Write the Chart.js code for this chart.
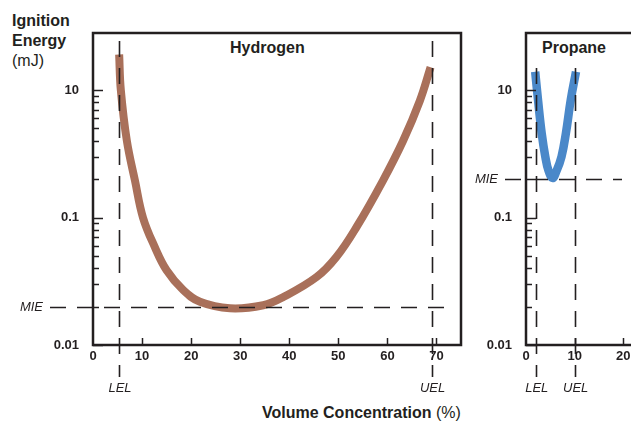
<!DOCTYPE html>
<html>
<head>
<meta charset="utf-8">
<script src="https://cdn.jsdelivr.net/npm/chart.js@4/dist/chart.umd.min.js"></script>
<style>
  html, body { margin: 0; padding: 0; background: #fff; overflow: hidden; width: 631px; height: 422px; }
  body { position: relative; font-family: "Liberation Sans", Arial, sans-serif; color: #231f20; }
  canvas { position: absolute; top: 0; }
  .lbl { position: absolute; font-size: 16px; line-height: 20px; white-space: nowrap; }
  .b { font-weight: bold; }
</style>
</head>
<body>
<div class="lbl" style="left:12px; top:11px;"><span class="b">Ignition</span><br><span class="b">Energy</span><br>(mJ)</div>
<div class="lbl b" style="left:230px; top:38px;">Hydrogen</div>
<div class="lbl b" style="left:542px; top:38px;">Propane</div>
<div class="lbl" style="left:262px; top:403px;"><span class="b">Volume Concentration</span> (%)</div>

<canvas id="h2Chart" width="470" height="422" style="left:0px;"></canvas>
<canvas id="c3Chart" width="175" height="422" style="left:465px;"></canvas>

<script>
// Hydrogen: concentration (%) vs minimum ignition energy (mJ)
const h2Conc   = [5.33, 5.67, 6.9, 8.55, 10.2, 12.6, 15.0, 18.4, 21.8, 27.9, 34.7, 38.8, 45.6, 49.6, 53.7, 59.1, 63.2, 66.6, 68.8];
const h2Energy = [1.9, 1.0, 0.40, 0.195, 0.0995, 0.0586, 0.0386, 0.0269, 0.0218, 0.0194, 0.0205, 0.0238, 0.0342, 0.049, 0.084, 0.195, 0.40, 0.82, 1.51];
const h2Limits = [5.3, 69];   // LEL, UEL
const h2Mie = 0.02;
const h2XTicks = [0, 10, 20, 30, 40, 50, 60, 70];

// Propane
const c3Conc   = [1.89, 2.47, 3.23, 3.97, 4.63, 5.45, 6.3, 7.3, 8.2, 9.2, 10.28];
const c3Energy = [1.39, 0.836, 0.457, 0.300, 0.233, 0.204, 0.233, 0.300, 0.457, 0.836, 1.39];
const c3Limits = [2.0, 10];
const c3Mie = 0.2;
const c3XTicks = [0, 10, 20];

const limitNames = ['LEL', 'UEL'];

// y axis: major ticks with the labels as printed, minor ticks 2..9 in each decade
const yMajor = [0.01, 0.1, 1];
const yTickLabels = ['0.01', '0.1', '10'];

const INK = '#231f20';
const FONT = '"Liberation Sans", Arial, sans-serif';

const yTickValues = [];
[0.01, 0.1].forEach(d => { for (let k = 1; k <= 9; k++) yTickValues.push(+(d * k).toFixed(3)); });
yTickValues.push(1);

const marksPlugin = {
  id: 'marks',
  afterDatasetsDraw(chart, args, o) {
    const { ctx, chartArea: a } = chart;
    const x = chart.scales.x, y = chart.scales.y;
    ctx.save();
    ctx.strokeStyle = INK;

    // dashed LEL / UEL / MIE lines
    ctx.lineWidth = 1.6;
    ctx.setLineDash([16, 11]);
    o.limits.forEach(v => {
      const px = Math.round(x.getPixelForValue(v)) + 0.5;
      ctx.beginPath(); ctx.moveTo(px, o.limitTop); ctx.lineTo(px, o.limitBottom); ctx.stroke();
    });
    const my = Math.round(y.getPixelForValue(o.mie)) + 0.5;
    ctx.beginPath(); ctx.moveTo(o.mieFrom, my); ctx.lineTo(o.mieTo, my); ctx.stroke();
    ctx.setLineDash([]);

    // frame
    ctx.lineWidth = 2.5;
    ctx.strokeRect(a.left, a.top, a.right - a.left, a.bottom - a.top);

    // inner tick marks
    ctx.lineWidth = 1.5;
    y.ticks.forEach(t => {
      const py = Math.round(y.getPixelForValue(t.value)) + 0.5;
      const len = yMajor.includes(t.value) ? 10 : 6;
      ctx.beginPath(); ctx.moveTo(a.left, py); ctx.lineTo(a.left + len, py); ctx.stroke();
    });
    x.ticks.forEach(t => {
      if (t.value === 0) return;
      const px = Math.round(x.getPixelForValue(t.value)) + 0.5;
      ctx.beginPath(); ctx.moveTo(px, a.bottom); ctx.lineTo(px, a.bottom - 7); ctx.stroke();
    });

    // italic labels
    ctx.fillStyle = INK;
    ctx.font = 'italic 13px ' + FONT;
    ctx.textBaseline = 'middle';
    ctx.textAlign = 'center';
    o.limits.forEach((v, i) => ctx.fillText(limitNames[i], x.getPixelForValue(v) + 1, 388));
    ctx.textAlign = 'right';
    ctx.fillText('MIE', o.mieFrom - 7, my);
    ctx.restore();
  }
};

function makeChart(id, conc, energy, color, width, xMax, xTicks, yAxisWidth, padRight, marks) {
  return new Chart(document.getElementById(id), {
    type: 'line',
    data: {
      datasets: [{
        data: conc.map((c, i) => ({ x: c, y: energy[i] })),
        borderColor: color,
        borderWidth: width,
        pointRadius: 0,
        tension: 0.4,
        fill: false
      }]
    },
    options: {
      responsive: false,
      animation: false,
      devicePixelRatio: 1,
      layout: { padding: { left: 0, right: padRight, top: 33, bottom: 47 } },
      plugins: { legend: { display: false }, tooltip: { enabled: false }, marks },
      scales: {
        x: {
          type: 'linear', min: 0, max: xMax,
          border: { display: false },
          grid: { display: false, drawTicks: false },
          afterBuildTicks: s => { s.ticks = xTicks.map(v => ({ value: v })); },
          ticks: { padding: 4, color: INK, font: { family: FONT, size: 13, weight: 'bold' }, maxRotation: 0, autoSkip: false },
          afterFit: s => { s.height = 30; }
        },
        y: {
          type: 'logarithmic', min: 0.01, max: 2.8,
          border: { display: false },
          grid: { display: false, drawTicks: false },
          afterBuildTicks: s => { s.ticks = yTickValues.map(v => ({ value: v })); },
          ticks: {
            padding: 14, color: INK, autoSkip: false,
            font: { family: FONT, size: 13, weight: 'bold' },
            callback: v => { const i = yMajor.indexOf(v); return i >= 0 ? yTickLabels[i] : ''; }
          },
          afterFit: s => { s.width = yAxisWidth; }
        }
      }
    },
    plugins: [marksPlugin]
  });
}

makeChart('h2Chart', h2Conc, h2Energy, '#a9705a', 8, 75, h2XTicks, 93, 9,
  { limits: h2Limits, mie: h2Mie, limitTop: 41, limitBottom: 377, mieFrom: 50, mieTo: 446 });
makeChart('c3Chart', c3Conc, c3Energy, '#4a88c9', 8.5, 22, c3XTicks, 61, 7,
  { limits: c3Limits, mie: c3Mie, limitTop: 68, limitBottom: 377, mieFrom: 40, mieTo: 157 });
</script>
</body>
</html>
